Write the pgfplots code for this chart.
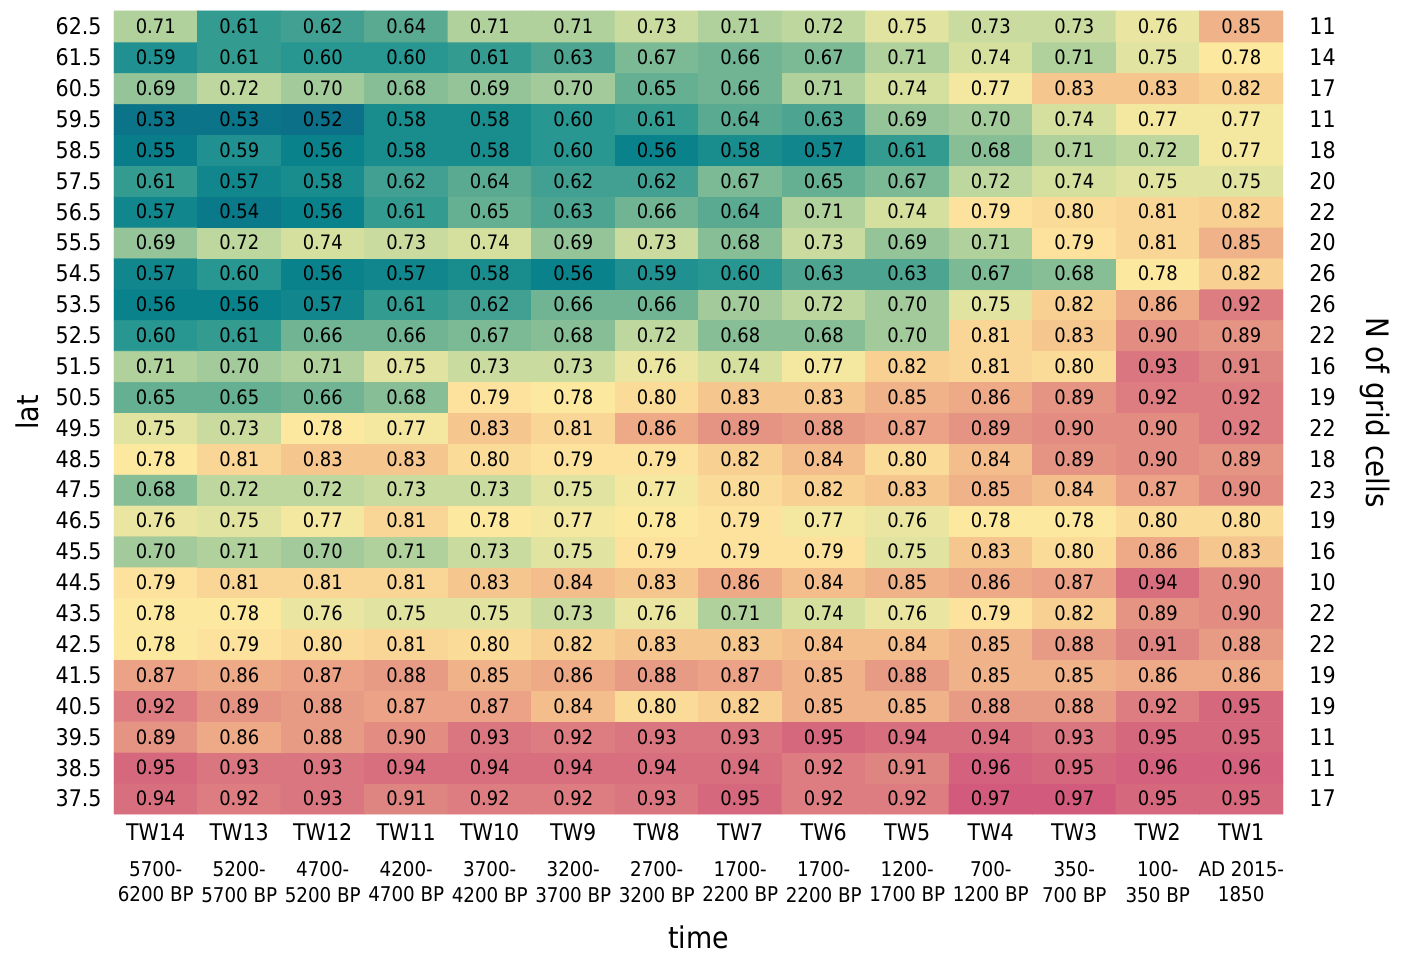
\documentclass[border=0pt]{standalone}
\usepackage{fontspec}
\setmainfont{DejaVu Sans Condensed}
\usepackage{pgfplots}
\pgfplotsset{compat=1.18}

\pgfplotstableread[row sep=\\]{
x y c\\
0 0 0.94\\ 1 0 0.92\\ 2 0 0.93\\ 3 0 0.91\\ 4 0 0.92\\ 5 0 0.92\\ 6 0 0.93\\ 7 0 0.95\\ 8 0 0.92\\ 9 0 0.92\\ 10 0 0.97\\ 11 0 0.97\\ 12 0 0.95\\ 13 0 0.95\\
0 1 0.95\\ 1 1 0.93\\ 2 1 0.93\\ 3 1 0.94\\ 4 1 0.94\\ 5 1 0.94\\ 6 1 0.94\\ 7 1 0.94\\ 8 1 0.92\\ 9 1 0.91\\ 10 1 0.96\\ 11 1 0.95\\ 12 1 0.96\\ 13 1 0.96\\
0 2 0.89\\ 1 2 0.86\\ 2 2 0.88\\ 3 2 0.90\\ 4 2 0.93\\ 5 2 0.92\\ 6 2 0.93\\ 7 2 0.93\\ 8 2 0.95\\ 9 2 0.94\\ 10 2 0.94\\ 11 2 0.93\\ 12 2 0.95\\ 13 2 0.95\\
0 3 0.92\\ 1 3 0.89\\ 2 3 0.88\\ 3 3 0.87\\ 4 3 0.87\\ 5 3 0.84\\ 6 3 0.80\\ 7 3 0.82\\ 8 3 0.85\\ 9 3 0.85\\ 10 3 0.88\\ 11 3 0.88\\ 12 3 0.92\\ 13 3 0.95\\
0 4 0.87\\ 1 4 0.86\\ 2 4 0.87\\ 3 4 0.88\\ 4 4 0.85\\ 5 4 0.86\\ 6 4 0.88\\ 7 4 0.87\\ 8 4 0.85\\ 9 4 0.88\\ 10 4 0.85\\ 11 4 0.85\\ 12 4 0.86\\ 13 4 0.86\\
0 5 0.78\\ 1 5 0.79\\ 2 5 0.80\\ 3 5 0.81\\ 4 5 0.80\\ 5 5 0.82\\ 6 5 0.83\\ 7 5 0.83\\ 8 5 0.84\\ 9 5 0.84\\ 10 5 0.85\\ 11 5 0.88\\ 12 5 0.91\\ 13 5 0.88\\
0 6 0.78\\ 1 6 0.78\\ 2 6 0.76\\ 3 6 0.75\\ 4 6 0.75\\ 5 6 0.73\\ 6 6 0.76\\ 7 6 0.71\\ 8 6 0.74\\ 9 6 0.76\\ 10 6 0.79\\ 11 6 0.82\\ 12 6 0.89\\ 13 6 0.90\\
0 7 0.79\\ 1 7 0.81\\ 2 7 0.81\\ 3 7 0.81\\ 4 7 0.83\\ 5 7 0.84\\ 6 7 0.83\\ 7 7 0.86\\ 8 7 0.84\\ 9 7 0.85\\ 10 7 0.86\\ 11 7 0.87\\ 12 7 0.94\\ 13 7 0.90\\
0 8 0.70\\ 1 8 0.71\\ 2 8 0.70\\ 3 8 0.71\\ 4 8 0.73\\ 5 8 0.75\\ 6 8 0.79\\ 7 8 0.79\\ 8 8 0.79\\ 9 8 0.75\\ 10 8 0.83\\ 11 8 0.80\\ 12 8 0.86\\ 13 8 0.83\\
0 9 0.76\\ 1 9 0.75\\ 2 9 0.77\\ 3 9 0.81\\ 4 9 0.78\\ 5 9 0.77\\ 6 9 0.78\\ 7 9 0.79\\ 8 9 0.77\\ 9 9 0.76\\ 10 9 0.78\\ 11 9 0.78\\ 12 9 0.80\\ 13 9 0.80\\
0 10 0.68\\ 1 10 0.72\\ 2 10 0.72\\ 3 10 0.73\\ 4 10 0.73\\ 5 10 0.75\\ 6 10 0.77\\ 7 10 0.80\\ 8 10 0.82\\ 9 10 0.83\\ 10 10 0.85\\ 11 10 0.84\\ 12 10 0.87\\ 13 10 0.90\\
0 11 0.78\\ 1 11 0.81\\ 2 11 0.83\\ 3 11 0.83\\ 4 11 0.80\\ 5 11 0.79\\ 6 11 0.79\\ 7 11 0.82\\ 8 11 0.84\\ 9 11 0.80\\ 10 11 0.84\\ 11 11 0.89\\ 12 11 0.90\\ 13 11 0.89\\
0 12 0.75\\ 1 12 0.73\\ 2 12 0.78\\ 3 12 0.77\\ 4 12 0.83\\ 5 12 0.81\\ 6 12 0.86\\ 7 12 0.89\\ 8 12 0.88\\ 9 12 0.87\\ 10 12 0.89\\ 11 12 0.90\\ 12 12 0.90\\ 13 12 0.92\\
0 13 0.65\\ 1 13 0.65\\ 2 13 0.66\\ 3 13 0.68\\ 4 13 0.79\\ 5 13 0.78\\ 6 13 0.80\\ 7 13 0.83\\ 8 13 0.83\\ 9 13 0.85\\ 10 13 0.86\\ 11 13 0.89\\ 12 13 0.92\\ 13 13 0.92\\
0 14 0.71\\ 1 14 0.70\\ 2 14 0.71\\ 3 14 0.75\\ 4 14 0.73\\ 5 14 0.73\\ 6 14 0.76\\ 7 14 0.74\\ 8 14 0.77\\ 9 14 0.82\\ 10 14 0.81\\ 11 14 0.80\\ 12 14 0.93\\ 13 14 0.91\\
0 15 0.60\\ 1 15 0.61\\ 2 15 0.66\\ 3 15 0.66\\ 4 15 0.67\\ 5 15 0.68\\ 6 15 0.72\\ 7 15 0.68\\ 8 15 0.68\\ 9 15 0.70\\ 10 15 0.81\\ 11 15 0.83\\ 12 15 0.90\\ 13 15 0.89\\
0 16 0.56\\ 1 16 0.56\\ 2 16 0.57\\ 3 16 0.61\\ 4 16 0.62\\ 5 16 0.66\\ 6 16 0.66\\ 7 16 0.70\\ 8 16 0.72\\ 9 16 0.70\\ 10 16 0.75\\ 11 16 0.82\\ 12 16 0.86\\ 13 16 0.92\\
0 17 0.57\\ 1 17 0.60\\ 2 17 0.56\\ 3 17 0.57\\ 4 17 0.58\\ 5 17 0.56\\ 6 17 0.59\\ 7 17 0.60\\ 8 17 0.63\\ 9 17 0.63\\ 10 17 0.67\\ 11 17 0.68\\ 12 17 0.78\\ 13 17 0.82\\
0 18 0.69\\ 1 18 0.72\\ 2 18 0.74\\ 3 18 0.73\\ 4 18 0.74\\ 5 18 0.69\\ 6 18 0.73\\ 7 18 0.68\\ 8 18 0.73\\ 9 18 0.69\\ 10 18 0.71\\ 11 18 0.79\\ 12 18 0.81\\ 13 18 0.85\\
0 19 0.57\\ 1 19 0.54\\ 2 19 0.56\\ 3 19 0.61\\ 4 19 0.65\\ 5 19 0.63\\ 6 19 0.66\\ 7 19 0.64\\ 8 19 0.71\\ 9 19 0.74\\ 10 19 0.79\\ 11 19 0.80\\ 12 19 0.81\\ 13 19 0.82\\
0 20 0.61\\ 1 20 0.57\\ 2 20 0.58\\ 3 20 0.62\\ 4 20 0.64\\ 5 20 0.62\\ 6 20 0.62\\ 7 20 0.67\\ 8 20 0.65\\ 9 20 0.67\\ 10 20 0.72\\ 11 20 0.74\\ 12 20 0.75\\ 13 20 0.75\\
0 21 0.55\\ 1 21 0.59\\ 2 21 0.56\\ 3 21 0.58\\ 4 21 0.58\\ 5 21 0.60\\ 6 21 0.56\\ 7 21 0.58\\ 8 21 0.57\\ 9 21 0.61\\ 10 21 0.68\\ 11 21 0.71\\ 12 21 0.72\\ 13 21 0.77\\
0 22 0.53\\ 1 22 0.53\\ 2 22 0.52\\ 3 22 0.58\\ 4 22 0.58\\ 5 22 0.60\\ 6 22 0.61\\ 7 22 0.64\\ 8 22 0.63\\ 9 22 0.69\\ 10 22 0.70\\ 11 22 0.74\\ 12 22 0.77\\ 13 22 0.77\\
0 23 0.69\\ 1 23 0.72\\ 2 23 0.70\\ 3 23 0.68\\ 4 23 0.69\\ 5 23 0.70\\ 6 23 0.65\\ 7 23 0.66\\ 8 23 0.71\\ 9 23 0.74\\ 10 23 0.77\\ 11 23 0.83\\ 12 23 0.83\\ 13 23 0.82\\
0 24 0.59\\ 1 24 0.61\\ 2 24 0.60\\ 3 24 0.60\\ 4 24 0.61\\ 5 24 0.63\\ 6 24 0.67\\ 7 24 0.66\\ 8 24 0.67\\ 9 24 0.71\\ 10 24 0.74\\ 11 24 0.71\\ 12 24 0.75\\ 13 24 0.78\\
0 25 0.71\\ 1 25 0.61\\ 2 25 0.62\\ 3 25 0.64\\ 4 25 0.71\\ 5 25 0.71\\ 6 25 0.73\\ 7 25 0.71\\ 8 25 0.72\\ 9 25 0.75\\ 10 25 0.73\\ 11 25 0.73\\ 12 25 0.76\\ 13 25 0.85\\
}\cells

\newcommand{\tw}[3]{{\fontsize{11.5}{12}\selectfont #1}\\[5bp]#2\\#3}

\begin{document}
\begin{tikzpicture}
\useasboundingbox (-57bp,-71bp) rectangle (644bp,407bp);
\begin{axis}[
  scale only axis, width=584.5bp, height=401.5bp,
  xmin=-0.5, xmax=13.5, ymin=-0.5, ymax=25.5,
  axis line style={draw=none}, major tick length=0pt,
  xtick={0,...,13}, ytick={0,...,25},
  yticklabels={37.5,38.5,39.5,40.5,41.5,42.5,43.5,44.5,45.5,46.5,47.5,48.5,49.5,50.5,51.5,52.5,53.5,54.5,55.5,56.5,57.5,58.5,59.5,60.5,61.5,62.5},
  xticklabels={
    {\tw{TW14}{5700-}{6200 BP}},{\tw{TW13}{5200-}{5700 BP}},{\tw{TW12}{4700-}{5200 BP}},
    {\tw{TW11}{4200-}{4700 BP}},{\tw{TW10}{3700-}{4200 BP}},{\tw{TW9}{3200-}{3700 BP}},
    {\tw{TW8}{2700-}{3200 BP}},{\tw{TW7}{1700-}{2200 BP}},{\tw{TW6}{1700-}{2200 BP}},
    {\tw{TW5}{1200-}{1700 BP}},{\tw{TW4}{700-}{1200 BP}},{\tw{TW3}{350-}{700 BP}},
    {\tw{TW2}{100-}{350 BP}},{\tw{TW1}{AD 2015-}{1850}}},
  yticklabel style={font=\fontsize{11.5}{13}\selectfont, inner sep=0pt, anchor=east, xshift=-6bp},
  xticklabel style={font=\fontsize{10.2}{13}\selectfont, align=center, inner sep=0pt, anchor=north, yshift=-4.5bp},
  xlabel={time}, ylabel={lat},
  every axis x label/.style={at={(axis description cs:0.5,-0.1675)}, anchor=base, font=\fontsize{15}{18}\selectfont},
  every axis y label/.style={at={(axis description cs:-0.0744,0.5)}, rotate=90, anchor=center, font=\fontsize{15}{18}\selectfont},
  colormap={tw}{rgb255(0pt)=(11,112,136); rgb255(4pt)=(10,130,140); rgb255(8pt)=(40,150,145); rgb255(12pt)=(90,170,145); rgb255(16pt)=(135,190,150); rgb255(20pt)=(190,215,158); rgb255(23pt)=(225,228,160); rgb255(26pt)=(253,232,160); rgb255(30pt)=(248,208,145); rgb255(34pt)=(238,170,135); rgb255(38pt)=(226,140,130); rgb255(41pt)=(218,118,128); rgb255(45pt)=(210,90,124)},
  point meta min=0.52, point meta max=0.97,
]
\addplot[matrix plot*, mesh/cols=14, mesh/ordering=x varies, point meta=explicit,
  nodes near coords={\pgfmathprintnumber[fixed, fixed zerofill, precision=2, assume math mode=true]{\pgfplotspointmeta}},
  every node near coord/.append style={font=\fontsize{10}{12}\selectfont, color=black, anchor=center, inner sep=0pt}]
  table[x=x, y=y, meta=c] {\cells};
\end{axis}
\begin{axis}[
  scale only axis, width=584.5bp, height=401.5bp,
  xmin=-0.5, xmax=13.5, ymin=-0.5, ymax=25.5,
  axis x line=none, axis y line*=right, axis line style={draw=none}, major tick length=0pt,
  ytick={0,...,25},
  yticklabels={17,11,11,19,19,22,22,10,16,19,23,18,22,19,16,22,26,26,20,22,20,18,11,17,14,11},
  yticklabel style={font=\fontsize{11.5}{13}\selectfont, inner sep=0pt, anchor=west, xshift=13bp},
  ylabel={N of grid cells},
  every axis y label/.style={at={(axis description cs:1.0787,0.5)}, rotate=-90, anchor=center, font=\fontsize{15.5}{18}\selectfont},
]
\end{axis}
\end{tikzpicture}
\end{document}
